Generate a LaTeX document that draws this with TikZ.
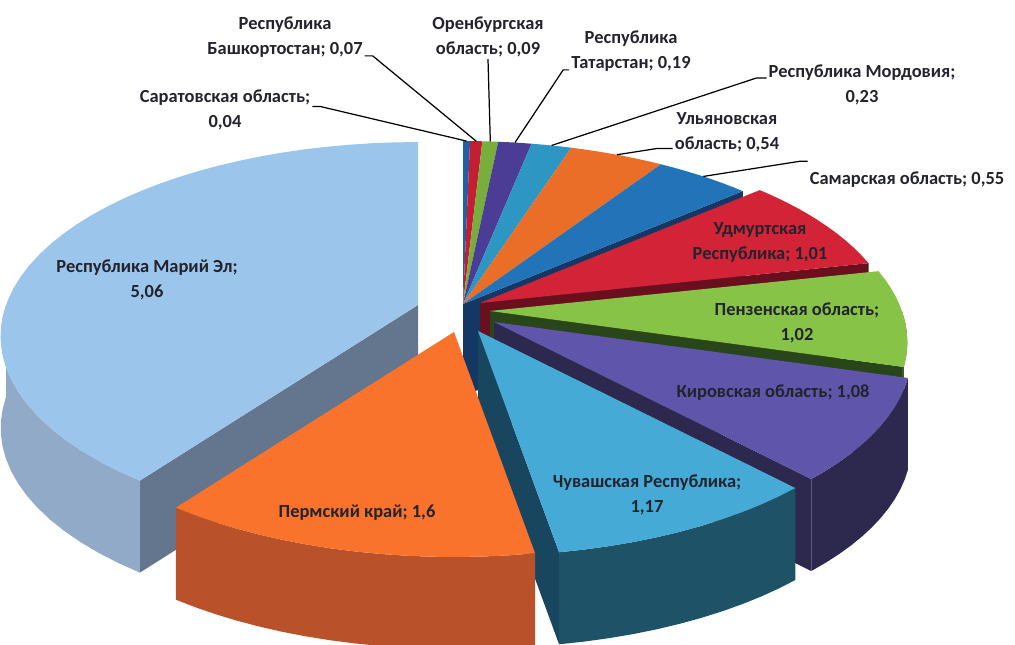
\documentclass[tikz,border=0pt]{standalone}
\usepackage{fontspec}
\setmainfont{Carlito}
\usepackage{tikz}

\definecolor{txt}{RGB}{35,35,45}
\definecolor{sarcol}{RGB}{35,95,165}
\definecolor{bashcol}{RGB}{195,30,50}
\definecolor{orencol}{RGB}{120,175,60}
\definecolor{tatcol}{RGB}{75,60,150}
\definecolor{mordcol}{RGB}{45,150,195}
\definecolor{ulycol}{RGB}{235,110,40}
\definecolor{samcol}{RGB}{35,115,185}
\definecolor{udmcol}{RGB}{210,35,55}
\definecolor{pencol}{RGB}{135,195,70}
\definecolor{kircol}{RGB}{95,85,170}
\definecolor{chucol}{RGB}{70,170,215}
\definecolor{permcol}{RGB}{250,115,45}
\definecolor{maricol}{RGB}{155,197,235}
\definecolor{samface}{RGB}{20,55,100}
\definecolor{udmface}{RGB}{105,15,30}
\definecolor{penface}{RGB}{40,70,25}
\definecolor{penwall}{RGB}{60,95,35}
\definecolor{kirwall}{RGB}{45,40,78}
\definecolor{chuface}{RGB}{25,70,95}
\definecolor{chuwall}{RGB}{30,82,102}
\definecolor{permwall}{RGB}{185,82,42}
\definecolor{mariface}{RGB}{100,118,142}
\definecolor{mariwall}{RGB}{145,170,200}

\begin{document}
\begin{tikzpicture}[x=0.02cm, y=-0.02cm,
	declare function={px(\t)=412*cos(\t)/(1+0.16*sin(\t)); py(\t)=-189*sin(\t)/(1+0.16*sin(\t));},
	lbl/.style={font=\fontsize{10.5}{14.2}\selectfont\bfseries, text=txt, align=center, inner sep=1pt},
	leader/.style={draw=black, line width=0.7pt}]

	\useasboundingbox (0,0) rectangle (1015,645);

	% small slices at the back
	\begin{scope}[shift={(463,304)}]
		\fill[samface] (0,0) -- ({px(41.34)},{py(41.34)}) -- ++(0,92) -- (0,92) -- cycle;
		\fill[sarcol]  (0,0) -- plot[domain=88.86:90, samples=3] ({px(\x)},{py(\x)}) -- cycle;
		\fill[bashcol] (0,0) -- plot[domain=86.87:88.86, samples=3] ({px(\x)},{py(\x)}) -- cycle;
		\fill[orencol] (0,0) -- plot[domain=84.31:86.87, samples=3] ({px(\x)},{py(\x)}) -- cycle;
		\fill[tatcol]  (0,0) -- plot[domain=78.90:84.31, samples=4] ({px(\x)},{py(\x)}) -- cycle;
		\fill[mordcol] (0,0) -- plot[domain=72.36:78.90, samples=4] ({px(\x)},{py(\x)}) -- cycle;
		\fill[ulycol]  (0,0) -- plot[domain=56.99:72.36, samples=8] ({px(\x)},{py(\x)}) -- cycle;
		\fill[samcol]  (0,0) -- plot[domain=41.34:56.99, samples=8] ({px(\x)},{py(\x)}) -- cycle;
		\coordinate (sarTip)  at ({px(89.43)},{py(89.43)});
		\coordinate (bashTip) at ({px(87.87)},{py(87.87)});
		\coordinate (orenTip) at ({px(85.59)},{py(85.59)});
		\coordinate (tatTip)  at ({px(81.60)},{py(81.60)});
		\coordinate (mordTip) at ({px(75.63)},{py(75.63)});
		\coordinate (ulyTip)  at ({px(64.68)},{py(64.68)});
		\coordinate (samTip)  at ({px(49.17)},{py(49.17)});
	\end{scope}

	% Udmurt
	\begin{scope}[shift={(480,303)}]
		\fill[udmface] (0,0) -- ({px(12.6)},{py(12.6)}) -- ++(0,92) -- (0,92) -- cycle;
		\fill[udmcol] (0,0) -- plot[domain=12.6:41.34, samples=12] ({px(\x)},{py(\x)}) -- cycle;
	\end{scope}

	% Penza
	\begin{scope}[shift={(490,311)}]
		\fill[penface] (0,0) -- ({px(-16.43)},{py(-16.43)}) -- ++(0,92) -- (0,92) -- cycle;
		\fill[penwall] plot[domain=-16.43:0, samples=6] ({px(\x)},{py(\x)})
			-- plot[domain=0:-16.43, samples=6] ({px(\x)},{py(\x)+92}) -- cycle;
		\fill[pencol] (0,0) -- plot[domain=-16.43:12.6, samples=12] ({px(\x)},{py(\x)}) -- cycle;
	\end{scope}

	% Kirov
	\begin{scope}[shift={(494,322)}]
		\fill[kirwall] (0,0) -- ({px(-47.17)},{py(-47.17)}) -- ++(0,92) -- (0,92) -- cycle;
		\fill[kirwall] plot[domain=-47.17:-16.43, samples=12] ({px(\x)},{py(\x)})
			-- plot[domain=-16.43:-47.17, samples=12] ({px(\x)},{py(\x)+92}) -- cycle;
		\fill[kircol] (0,0) -- plot[domain=-47.17:-16.43, samples=12] ({px(\x)},{py(\x)}) -- cycle;
	\end{scope}

	% Chuvash
	\begin{scope}[shift={(478,331)}]
		\fill[chuface] (0,0) -- ({px(-80.46)},{py(-80.46)}) -- ++(0,92) -- (0,92) -- cycle;
		\fill[chuwall] plot[domain=-80.46:-47.17, samples=12] ({px(\x)},{py(\x)})
			-- plot[domain=-47.17:-80.46, samples=12] ({px(\x)},{py(\x)+92}) -- cycle;
		\fill[chucol] (0,0) -- plot[domain=-80.46:-47.17, samples=12] ({px(\x)},{py(\x)}) -- cycle;
	\end{scope}

	% Mari El
	\begin{scope}[shift={(418,305)}]
		\fill[mariface] (0,0) -- ({px(234)},{py(234)}) -- ++(0,92) -- (0,92) -- cycle;
		\fill[mariwall] plot[domain=180:234, samples=16] ({px(\x)},{py(\x)})
			-- plot[domain=234:180, samples=16] ({px(\x)},{py(\x)+92}) -- cycle;
		\fill[maricol] (0,0) -- plot[domain=90:234, samples=40] ({px(\x)},{py(\x)}) -- cycle;
	\end{scope}

	% Perm
	\begin{scope}[shift={(454,332)}]
		\fill[permwall] plot[domain=-126:-80.46, samples=16] ({px(\x)},{py(\x)})
			-- plot[domain=-80.46:-126, samples=16] ({px(\x)},{py(\x)+92}) -- cycle;
		\fill[permcol] (0,0) -- plot[domain=-126:-80.46, samples=16] ({px(\x)},{py(\x)}) -- cycle;
	\end{scope}

	% labels
	\node[lbl] (sarLbl)  at (225,110) {Саратовская область;\\0,04};
	\node[lbl] (bashLbl) at (285,37)  {Республика\\Башкортостан; 0,07};
	\node[lbl] (orenLbl) at (488,37)  {Оренбургская\\область; 0,09};
	\node[lbl] (tatLbl)  at (631,51)  {Республика\\Татарстан; 0,19};
	\node[lbl] (mordLbl) at (862,85)  {Республика Мордовия;\\0,23};
	\node[lbl] (ulyLbl)  at (727,132) {Ульяновская\\область; 0,54};
	\node[lbl] (samLbl)  at (907,180) {Самарская область; 0,55};
	\node[lbl] (udmLbl)  at (760,242) {Удмуртская\\Республика; 1,01};
	\node[lbl] (penLbl)  at (797,323) {Пензенская область;\\1,02};
	\node[lbl] (kirLbl)  at (773,393) {Кировская область; 1,08};
	\node[lbl] (chuLbl)  at (647,495) {Чувашская Республика;\\1,17};
	\node[lbl] (permLbl) at (357,513) {Пермский край; 1,6};
	\node[lbl] (mariLbl) at (147,280) {Республика Марий Эл;\\5,06};

	% leader lines
	\draw[leader] ([yshift=2pt]sarLbl.east) -- ++(8,0) -- (sarTip);
	\draw[leader] ([yshift=2pt]bashLbl.south east) -- ++(8,0) -- (bashTip);
	\draw[leader] (orenLbl.south) -- (orenTip);
	\draw[leader] ([yshift=2pt]tatLbl.south west) -- ++(-6,0) -- (tatTip);
	\draw[leader] ([yshift=4pt]mordLbl.west) -- ++(-10,0) -- (mordTip);
	\draw[leader] ([yshift=3pt]ulyLbl.south west) -- ++(-16,0) -- (ulyTip);
	\draw[leader] ([yshift=5pt]samLbl.north west) -- ++(-8,0) -- (samTip);

\end{tikzpicture}
\end{document}
